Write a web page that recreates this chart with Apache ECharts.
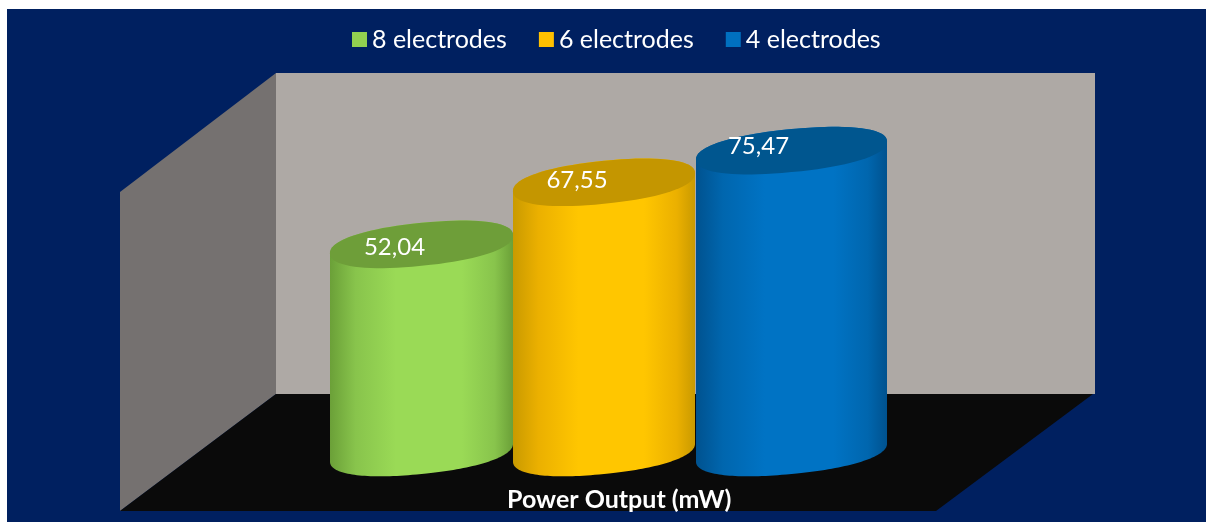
<!DOCTYPE html>
<html>
<head>
<meta charset="utf-8">
<style>html,body{margin:0;padding:0;background:#fff}#c{width:1206px;height:522px}#c canvas{filter:blur(0.4px)}</style>
<script src="https://cdn.jsdelivr.net/npm/echarts@6/dist/echarts.min.js"></script>
</head>
<body>
<div id="c"></div>
<script>
const seriesNames = ['8 electrodes', '6 electrodes', '4 electrodes'];
const seriesValues = [52.04, 67.55, 75.47];
const axisTitle = 'Power Output (mW)';

const looks = [
  {base:'#92D050', light:'#9ADA56', mid:'#88C44C', edge:'#6BA038', top:'#6E9E39', dx:0,    half:91.5, lx:-27, ly:3},
  {base:'#FFC000', light:'#FFC600', mid:'#EBB000', edge:'#C99A00', top:'#C49600', dx:-2.5, half:91,   lx:-27, ly:-2},
  {base:'#0070C0', light:'#0073C4', mid:'#0066AE', edge:'#00528F', top:'#00568F', dx:0,    half:95.5, lx:-33, ly:-4}
];
const skew = 9, minor = 21.5, roundness = 0.9;

function pow(v) { return Math.sign(v) * Math.pow(Math.abs(v), roundness); }

function rim(cx, cy, a, from, to) {
  const pts = [];
  const n = 80;
  for (let i = 0; i <= n; i++) {
    const t = from + (to - from) * i / n;
    const c = pow(Math.cos(t)), s = pow(Math.sin(t));
    pts.push([cx + a * c, cy - skew * c + minor * s]);
  }
  return pts;
}

function cylinder(idx) {
  const k = looks[idx];
  return function (params, api) {
    const top = api.coord([api.value(0), api.value(1)]);
    const bot = api.coord([api.value(0), 0]);
    const cx = top[0] + k.dx;
    const body = rim(cx, bot[1], k.half, 0, Math.PI).concat(rim(cx, top[1], k.half, Math.PI, 2 * Math.PI));
    const cap = rim(cx, top[1], k.half, 0, 2 * Math.PI);
    const grad = new echarts.graphic.LinearGradient(0, 0, 1, 0, [
      {offset: 0, color: k.edge},
      {offset: 0.14, color: k.mid},
      {offset: 0.36, color: k.light},
      {offset: 0.72, color: k.light},
      {offset: 0.9, color: k.mid},
      {offset: 1, color: k.edge}
    ]);
    return {
      type: 'group',
      children: [
        {type: 'polygon', shape: {points: body}, style: {fill: grad}},
        {type: 'polygon', shape: {points: cap}, style: {fill: k.top}},
        {type: 'text', x: cx + k.lx, y: top[1] + k.ly,
          style: {text: String(api.value(1).toFixed(2)).replace('.', ','), fill: '#fff',
            font: '24px Lato', align: 'center', verticalAlign: 'middle'}}
      ]
    };
  };
}

const chart = echarts.init(document.getElementById('c'));
chart.setOption({
  animation: false,
  backgroundColor: '#fff',
  grid: {left: 329, top: 132.5, width: 555, height: 320},
  xAxis: {type: 'category', data: seriesNames, show: false},
  yAxis: {type: 'value', min: 0, max: 80, show: false},
  title: {text: axisTitle, left: 507, top: 487, padding: 0,
    textStyle: {color: '#fff', fontFamily: 'Lato', fontWeight: 'bold', fontSize: 25}},
  legend: {
    data: seriesNames, left: 352, top: 27, padding: 0, icon: 'rect', itemWidth: 15, itemHeight: 15, itemGap: 32,
    textStyle: {color: '#fff', fontFamily: 'Lato', fontSize: 25}
  },
  graphic: {elements: [
    {type: 'rect', z: -10, shape: {x: 7, y: 9, width: 1199, height: 513}, style: {fill: '#002060'}},
    {type: 'polygon', z: -9, shape: {points: [[276, 73], [1095, 73], [1095, 394], [276, 394]]}, style: {fill: '#AEA9A5'}},
    {type: 'polygon', z: -9, shape: {points: [[120, 192], [276, 73], [276, 394], [120, 511]]}, style: {fill: '#757170'}},
    {type: 'polygon', z: -9, shape: {points: [[276, 394], [1093, 394], [936, 511], [120, 511]]}, style: {fill: '#0A0A0A'}}
  ]},
  series: seriesNames.map((name, i) => ({
    name, type: 'custom', clip: false, z: 2 + i,
    coordinateSystem: 'cartesian2d',
    itemStyle: {color: looks[i].base},
    encode: {x: 0, y: 1},
    renderItem: cylinder(i),
    data: [[i, seriesValues[i]]]
  }))
});
</script>
</body>
</html>
